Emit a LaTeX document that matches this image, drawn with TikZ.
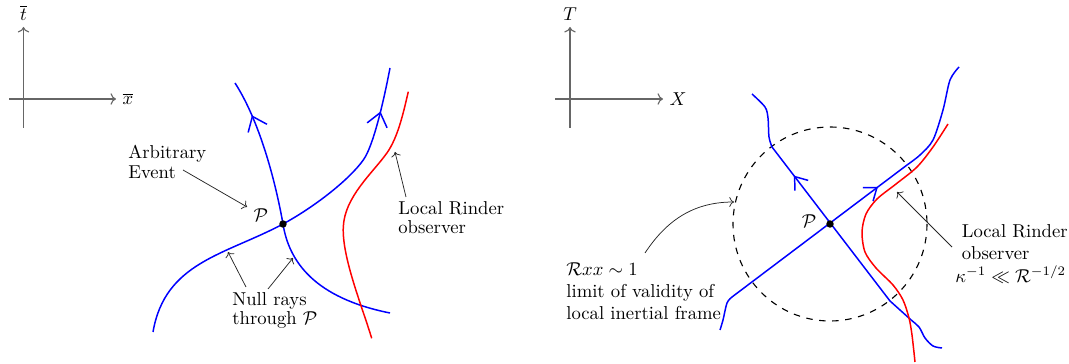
\documentclass[tikz,border=0pt]{standalone}
\usepackage{amsmath}
\usepackage{amssymb}
\usetikzlibrary{arrows.meta,decorations.markings}
\newcommand{\cP}{\mathcal{P}}
\newcommand{\cR}{\mathcal{R}}

\tikzset{
  ray/.style={blue, thick},
  obs/.style={red, thick},
  axline/.style={black!60, semithick, -To},
  note/.style={black!85, -To},
  lbl/.style={align=left, inner sep=0pt, anchor=north west},
  tight/.style={font=\fontsize{10}{10.5}\selectfont},
  event/.style={circle, fill=black, inner sep=0pt, minimum size=4pt},
  flow/.style={postaction={decorate, decoration={markings,
      mark=at position #1 with {\arrow{Straight Barb[length=7pt,width=11pt]}}}}},
  flowsmall/.style={postaction={decorate, decoration={markings,
      mark=at position #1 with {\arrow{Straight Barb[length=6pt,width=9pt]}}}}},
}

\begin{document}
\begin{tikzpicture}[x=0.536pt, y=-0.536pt]
  \useasboundingbox (0,0) rectangle (1069,364);

  % left: frame of the arbitrary event
  \node[anchor=south] (tbar) at (23.5,27) {$\overline{t}$};
  \node[anchor=west] (xbar) at (116,99) {$\overline{x}$};
  \draw[axline] (23.5,128) -- (tbar.south);
  \draw[axline] (9,99) -- (xbar.west);

  \draw[ray, flow=0.878] (390,313) .. controls (315,298) and (289,262) .. (283,224)
    .. controls (277,190) and (262,125) .. (235,83);
  \draw[ray, flow=0.882] (153,332) .. controls (165,262) and (225,255) .. (283,224)
    .. controls (313.5,207.5) and (348.8,180.3) .. (363.3,160)
    .. controls (374.9,143.8) and (386.2,87.9) .. (390,68);
  \draw[obs] (408.3,91.7) .. controls (403.7,111.1) and (398.3,137.1) .. (386.7,153.3)
    .. controls (372.2,173.5) and (344.8,196.7) .. (343.3,226.7)
    .. controls (341.8,256.7) and (361.5,304.7) .. (371.7,338.3);
  \node[event] (P1) at (283,224) {};
  \node (pl1) at (261,215) {$\cP$};

  \node[lbl, tight] (ev) at (128,145) {Arbitrary\\Event};
  \node[lbl, tight] (null) at (232,292) {Null rays\\through $\cP$};
  \node[lbl, tight] (rind1) at (398,201) {Local Rinder\\observer};
  \coordinate (nr1) at (228,252);
  \coordinate (nr2) at (293,258);
  \coordinate (rl) at (395,152);
  \draw[note] ([shift={(55,25)}]ev.north west) -- (pl1);
  \draw[note] ([shift={(14,-5)}]null.north west) -- (nr1);
  \draw[note] ([shift={(36,-3)}]null.north west) -- (nr2);
  \draw[note] ([shift={(8,-4)}]rind1.north west) -- (rl);

  % right: local inertial frame
  \node[anchor=south] (T) at (570,27) {$T$};
  \node[anchor=west] (X) at (663,99) {$X$};
  \draw[axline] (570,128) -- (T.south);
  \draw[axline] (555,99) -- (X.west);

  \draw[semithick, dash pattern=on 3.5pt off 3.5pt] (830,224) circle (97);
  \draw[ray, flowsmall=0.707] plot[smooth] coordinates {(942,348) (933,346) (925,338) (919,327)
    (910,319) (890,301)} -- plot[smooth] coordinates {(772,147) (769,137) (768,118)
    (765,107) (752,94)};
  \draw[ray, flowsmall=0.592] plot[smooth] coordinates {(720,330) (723,320) (727,303) (732,297)}
    -- plot[smooth] coordinates {(907,165) (920,155) (933,140) (943,110) (950,80) (959,67)};
  \draw[obs] plot[smooth] coordinates {(948,124) (933,147) (917,167) (896,184) (877,199)
    (866,214) (862,232) (865,252) (876,268) (893,285) (903,300) (909,318) (912,335) (915,362)};
  \node[event] (P2) at (830,224) {};
  \node (pl2) at (809,221) {$\cP$};

  \node[lbl] (rxx) at (566,262) {$\cR xx\sim 1$\\limit of validity of\\local inertial frame};
  \node[lbl] (rind2) at (955,224) {\hspace*{3.5pt}Local Rinder\\\hspace*{3.5pt}observer\\
    $\kappa^{-1}\ll\cR^{-1/2}$};
  \coordinate (cv) at (734,202);
  \coordinate (rr) at (897,192);
  \draw[note] ([shift={(79,-9)}]rxx.north west) .. controls +(23,-35) and +(-38,0) .. (cv);
  \draw[note] ([shift={(-3,23)}]rind2.north west) -- (rr);
\end{tikzpicture}
\end{document}
